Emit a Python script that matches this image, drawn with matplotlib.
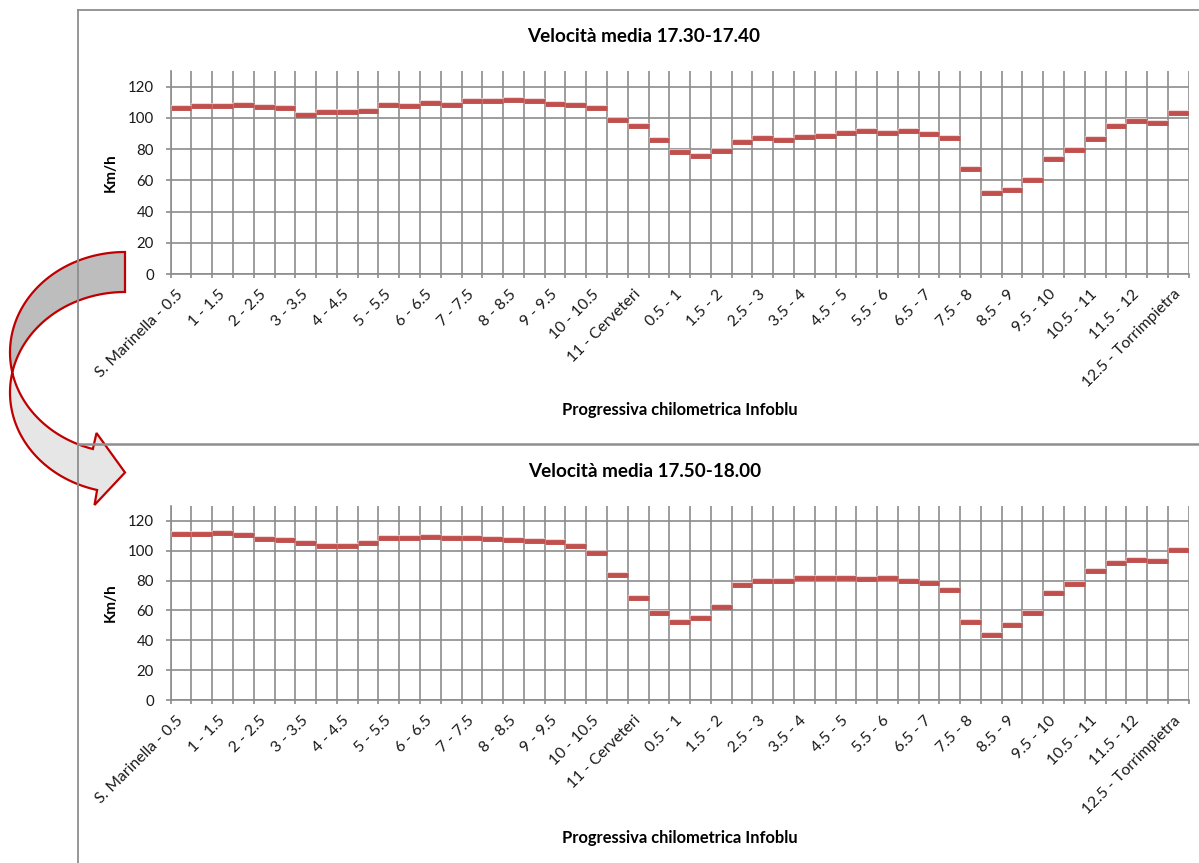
import numpy as np
import matplotlib
matplotlib.use("Agg")
import matplotlib.pyplot as plt
from matplotlib.patches import Polygon
from matplotlib.ticker import FixedLocator

plt.rcParams['font.family'] = ['Lato', 'DejaVu Sans']

# Tratte della progressiva chilometrica (S. Marinella -> Cerveteri -> Torrimpietra)
categories = [
    "S. Marinella - 0.5", "0.5 - 1", "1 - 1.5", "1.5 - 2", "2 - 2.5", "2.5 - 3",
    "3 - 3.5", "3.5 - 4", "4 - 4.5", "4.5 - 5", "5 - 5.5", "5.5 - 6",
    "6 - 6.5", "6.5 - 7", "7 - 7.5", "7.5 - 8", "8 - 8.5", "8.5 - 9",
    "9 - 9.5", "9.5 - 10", "10 - 10.5", "10.5 - 11", "11 - Cerveteri",
    "Cerveteri - 0.5", "0.5 - 1", "1 - 1.5", "1.5 - 2", "2 - 2.5", "2.5 - 3",
    "3 - 3.5", "3.5 - 4", "4 - 4.5", "4.5 - 5", "5 - 5.5", "5.5 - 6",
    "6 - 6.5", "6.5 - 7", "7 - 7.5", "7.5 - 8", "8 - 8.5", "8.5 - 9",
    "9 - 9.5", "9.5 - 10", "10 - 10.5", "10.5 - 11", "11 - 11.5", "11.5 - 12",
    "12 - 12.5", "12.5 - Torrimpietra",
]

# Velocità media (km/h) nella fascia 17.30-17.40
speed_1730 = [106, 107.5, 107.5, 108.5, 107, 106, 102, 103.5, 103.5, 104.5,
              108.5, 107.5, 109.5, 108.5, 110.5, 111, 111.5, 111, 109, 108.5,
              106, 98.5, 95, 85.5, 78, 75.5, 79, 84.5, 87, 85.5,
              88, 88.5, 90.5, 91.5, 90.5, 91.5, 89.5, 87, 67.5, 52,
              54, 60, 73.5, 79.5, 86.5, 95, 98, 97, 103]

# Velocità media (km/h) nella fascia 17.50-18.00
speed_1750 = [111, 111, 112, 110.5, 108, 107, 105, 103, 103, 105,
              108.5, 108.5, 109, 108.5, 108.5, 108, 107, 106.5, 106, 103,
              98.5, 83.5, 68.5, 58, 52.5, 55, 62.5, 77, 80, 80,
              82, 81.5, 81.5, 81, 82, 80, 78.5, 73.5, 52.5, 43.5,
              50, 58, 72, 78, 86.5, 92, 93.5, 93, 100.5]

titles = ["Velocità media 17.30-17.40", "Velocità media 17.50-18.00"]
y_label = "Km/h"
x_label = "Progressiva chilometrica Infoblu"

W, H = 1199, 863
GRID = "#8c8c8c"
RED = "#c0504d"

fig = plt.figure(figsize=(W / 100, H / 100), dpi=100)
fig.patch.set_facecolor("white")


def px(x, y):
    """pixel position -> figure fraction"""
    return x / W, 1 - y / H


def panel(rect_px, values, title, title_pos, ylab_pos, xlab_pos):
    x0, y_top, x1, y_bot = rect_px
    ax = fig.add_axes([x0 / W, 1 - y_bot / H, (x1 - x0) / W, (y_bot - y_top) / H])
    n = len(values)
    xs = np.arange(n)
    ax.set_xlim(-0.5, n - 0.5)
    ax.set_ylim(0, 130)

    ax.yaxis.set_major_locator(FixedLocator(np.arange(0, 121, 20)))
    ax.xaxis.set_minor_locator(FixedLocator(np.arange(-0.5, n, 1.0)))
    ax.set_xticks(xs[::2], [categories[i] for i in xs[::2]],
                  rotation=45, ha="right", va="center", rotation_mode="anchor")

    ax.grid(True, axis="y", which="major", color=GRID, lw=1.2)
    ax.grid(True, axis="x", which="minor", color=GRID, lw=1.2)
    ax.grid(False, axis="x", which="major")
    ax.set_axisbelow(True)

    for s in ("top", "right"):
        ax.spines[s].set_visible(False)
    for s in ("left", "bottom"):
        ax.spines[s].set_color(GRID)
        ax.spines[s].set_linewidth(1.2)

    ax.tick_params(axis="x", which="major", length=0, pad=13, labelsize=11.3,
                   labelcolor="#1a1a1a")
    ax.tick_params(axis="x", which="minor", length=3, width=1.2, color=GRID,
                   direction="out")
    ax.tick_params(axis="y", which="major", length=3.6, width=1.2, color=GRID,
                   direction="out", pad=8.5, labelsize=10.8, labelcolor="#1a1a1a")

    v = np.asarray(values, dtype=float)
    ax.hlines(v, xs - 0.5, xs + 0.5, colors="#efcfce", lw=4.0,
              capstyle="butt", zorder=3)
    ax.hlines(v, xs - 0.5, xs + 0.5, colors=RED, lw=3.5,
              capstyle="butt", zorder=4)

    fig.text(*px(*title_pos), title, ha="center", va="center",
             fontsize=13.6, fontweight="bold", color="black")
    fig.text(*px(*ylab_pos), y_label, ha="center", va="center", rotation=90,
             fontsize=11, fontweight="bold", color="black")
    fig.text(*px(*xlab_pos), x_label, ha="center", va="center",
             fontsize=11.9, fontweight="bold", color="black")
    return ax


panel((170.7, 71, 1188.7, 274), speed_1730, titles[0], (644, 37), (111, 172.5), (680, 410))
panel((170.7, 505.7, 1188.7, 700.3), speed_1750, titles[1], (645, 471), (111, 602.5), (680, 838))

# Decorations drawn in pixel space: chart frames and the curved arrow
deco = fig.add_axes([0, 0, 1, 1], zorder=10)
deco.set_xlim(0, W)
deco.set_ylim(H, 0)
deco.axis("off")

FRAME = "#8e8e8e"
deco.plot([78, W], [10.5, 10.5], color=FRAME, lw=1.3)
deco.plot([78, 78], [10.5, H], color=FRAME, lw=1.3)
deco.plot([78, W], [443.8, 443.8], color=FRAME, lw=1.8)

cx, rx, ry = 125.0, 115.0, 100.5
cy1, cy2 = 352.5, 392.5
a = np.arcsin(20.0 / ry)


def arc(cy, t0, t1, num=80):
    t = np.linspace(t0, t1, num)
    return np.column_stack([cx + rx * np.cos(t), cy + ry * np.sin(t)])


upper = np.vstack([
    arc(cy1, -np.pi / 2, -np.pi - a),
    arc(cy2, -np.pi + a, -np.pi / 2),
    [[cx, 292.0], [cx, 252.0]],
])
b1 = np.arcsin((449.0 - cy1) / ry)
b2 = np.arcsin((490.0 - cy2) / ry)
lower = np.vstack([
    arc(cy1, -np.pi - a, -np.pi - b1),
    [[96.5, 433.0], [125.0, 472.5], [94.5, 505.0]],
    arc(cy2, -np.pi - b2, -np.pi + a),
])
deco.add_patch(Polygon(lower, closed=True, facecolor="#e6e6e6",
                       edgecolor="#c00000", lw=1.6, joinstyle="miter"))
deco.add_patch(Polygon(upper, closed=True, facecolor="#bdbdbd",
                       edgecolor="#c00000", lw=1.6, joinstyle="miter"))

fig.savefig("out.png", dpi=100)
